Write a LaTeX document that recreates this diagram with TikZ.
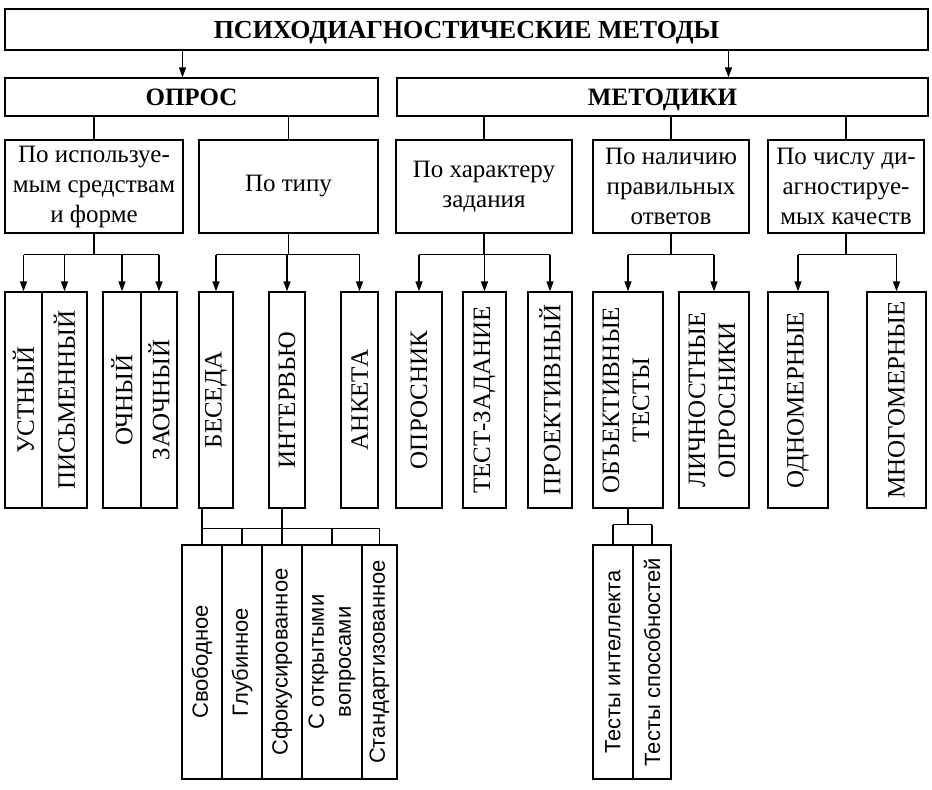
\documentclass[tikz,border=0pt]{standalone}
\usepackage{fontspec}
\setmainfont{Liberation Serif}
\setsansfont{Liberation Sans}
\usetikzlibrary{arrows.meta}
\tikzset{
  box/.style={draw, line width=1.3pt, inner sep=0pt, align=center},
  link/.style={line width=1.3pt},
  arr/.style={line width=1.3pt, -{Triangle[length=10pt,width=7pt]}},
  head/.style={box, text height=17pt, text depth=0pt, font=\fontsize{25}{30}\selectfont\bfseries},
  mid/.style={box, minimum height=93, font=\fontsize{25}{30}\selectfont},
  leaf/.style={box, minimum height=216, font=\fontsize{25}{30}\selectfont},
  sub/.style={box, minimum height=234, font=\sffamily\fontsize{22}{27}\selectfont},
}
\begin{document}
\begin{tikzpicture}[x=1pt,y=1pt,yscale=-1]
  \useasboundingbox (0,0) rectangle (932,790);
  % upper levels
  \node[head, minimum width=923, minimum height=41, font=\fontsize{26}{30}\selectfont\bfseries] (title) at (466.5,29.5) {ПСИХОДИАГНОСТИЧЕСКИЕ МЕТОДЫ};
  \node[head, minimum width=373, minimum height=38] (opros) at (191.5,97) {ОПРОС};
  \node[head, minimum width=531, minimum height=38] (metod) at (662.5,97) {МЕТОДИКИ};
  % criteria
  \node[mid, minimum width=178] (form) at (94,186.5) {По используе-\\мым средствам\\и форме};
  \node[mid, minimum width=179] (type) at (288.5,186.5) {По типу};
  \node[mid, minimum width=176] (task) at (484,186.5) {По характеру\\задания};
  \node[mid, minimum width=156] (answ) at (671,186.5) {По наличию\\правильных\\ответов};
  \node[mid, minimum width=156] (qual) at (846,186.5) {По числу ди-\\агностируе-\\мых качеств};
  % kinds
  \node[leaf, minimum width=37] (ustn) at (23.5,400) {\rotatebox{90}{УСТНЫЙ}};
  \node[leaf, minimum width=45] (pism) at (64.5,400) {\rotatebox{90}{ПИСЬМЕННЫЙ}};
  \node[leaf, minimum width=38] (ochn) at (122,400) {\rotatebox{90}{ОЧНЫЙ}};
  \node[leaf, minimum width=36] (zaoch) at (159,400) {\rotatebox{90}{ЗАОЧНЫЙ}};
  \node[leaf, minimum width=34] (beseda) at (216,400) {\rotatebox{90}{БЕСЕДА}};
  \node[leaf, minimum width=36] (interv) at (287,400) {\rotatebox{90}{ИНТЕРВЬЮ}};
  \node[leaf, minimum width=37] (anketa) at (359.5,400) {\rotatebox{90}{АНКЕТА}};
  \node[leaf, minimum width=46] (oprosnik) at (419,400) {\rotatebox{90}{ОПРОСНИК}};
  \node[leaf, minimum width=43] (testzad) at (484.5,400) {\rotatebox{90}{ТЕСТ-ЗАДАНИЕ}};
  \node[leaf, minimum width=44] (proekt) at (550,400) {\rotatebox{90}{ПРОЕКТИВНЫЙ}};
  \node[leaf, minimum width=70] (objekt) at (628,400) {\rotatebox{90}{\begin{tabular}{@{}c@{}}ОБЪЕКТИВНЫЕ\\ТЕСТЫ\end{tabular}}};
  \node[leaf, minimum width=70] (lichn) at (714,400) {\rotatebox{90}{\begin{tabular}{@{}c@{}}ЛИЧНОСТНЫЕ\\ОПРОСНИКИ\end{tabular}}};
  \node[leaf, minimum width=60] (odnom) at (798,400) {\rotatebox{90}{ОДНОМЕРНЫЕ}};
  \node[leaf, minimum width=59] (mnogom) at (896.5,400) {\rotatebox{90}{МНОГОМЕРНЫЕ}};
  % interview kinds and tests
  \node[sub, minimum width=40] (svob) at (202,662) {\rotatebox{90}{Свободное}};
  \node[sub, minimum width=40] (glub) at (242,662) {\rotatebox{90}{Глубинное}};
  \node[sub, minimum width=40] (sfok) at (282,662) {\rotatebox{90}{Сфокусированное}};
  \node[sub, minimum width=60] (sotkr) at (332,662) {\rotatebox{90}{\begin{tabular}{@{}c@{}}С открытыми\\вопросами\end{tabular}}};
  \node[sub, minimum width=35] (stand) at (379.5,662) {\rotatebox{90}{Стандартизованное}};
  \node[sub, minimum width=40] (tint) at (613,662) {\rotatebox{90}{Тесты интеллекта}};
  \node[sub, minimum width=38] (tspos) at (652,662) {\rotatebox{90}{Тесты способностей}};

  % connectors
  \draw[arr] ([xshift=-9pt]opros.north |- title.south) -- ([xshift=-9pt]opros.north);
  \draw[arr] ([xshift=66pt]metod.north |- title.south) -- ([xshift=66pt]metod.north);
  \draw[link] (opros.south -| form.north) -- (form.north);
  \draw[link] (opros.south -| type.north) -- (type.north);
  \draw[link] (metod.south -| task.north) -- (task.north);
  \draw[link] (metod.south -| answ.north) -- (answ.north);
  \draw[link] (metod.south -| qual.north) -- (qual.north);

  \draw[link] (form.south) -- ++(0,21) coordinate (fh);
  \draw[link] (fh -| ustn.north) -- (fh -| zaoch.north);
  \draw[arr] (fh -| ustn.north) -- (ustn.north);
  \draw[arr] (fh -| pism.north) -- (pism.north);
  \draw[arr] (fh -| ochn.north) -- (ochn.north);
  \draw[arr] (fh -| zaoch.north) -- (zaoch.north);

  \draw[link] (type.south) -- ++(0,21) coordinate (th);
  \draw[link] (th -| beseda.north) -- (th -| anketa.north);
  \draw[arr] (th -| beseda.north) -- (beseda.north);
  \draw[arr] (th -| interv.north) -- (interv.north);
  \draw[arr] (th -| anketa.north) -- (anketa.north);

  \draw[link] (task.south) -- ++(0,21) coordinate (kh);
  \draw[link] (kh -| oprosnik.north) -- (kh -| proekt.north);
  \draw[arr] (kh -| oprosnik.north) -- (oprosnik.north);
  \draw[arr] (kh -| testzad.north) -- (testzad.north);
  \draw[arr] (kh -| proekt.north) -- (proekt.north);

  \draw[link] (answ.south) -- ++(0,21) coordinate (ah);
  \draw[link] (ah -| objekt.north) -- (ah -| lichn.north);
  \draw[arr] (ah -| objekt.north) -- (objekt.north);
  \draw[arr] (ah -| lichn.north) -- (lichn.north);

  \draw[link] (qual.south) -- ++(0,21) coordinate (qh);
  \draw[link] (qh -| odnom.north) -- (qh -| mnogom.north);
  \draw[arr] (qh -| odnom.north) -- (odnom.north);
  \draw[arr] (qh -| mnogom.north) -- (mnogom.north);

  % lower branches
  \draw[link] (beseda.south -| svob.north) -- ++(0,20) coordinate (bh);
  \draw[link] (interv.south -| sfok.north) -- (bh -| sfok.north);
  \draw[link] (bh) -- (bh -| stand.north);
  \draw[link] (bh -| svob.north) -- (svob.north);
  \draw[link] (bh -| glub.north) -- (glub.north);
  \draw[link] (bh -| sfok.north) -- (sfok.north);
  \draw[link] (bh -| sotkr.north) -- (sotkr.north);
  \draw[link] (bh -| stand.north) -- (stand.north);

  \draw[link] (objekt.south) -- ++(0,16) coordinate (oh);
  \draw[link] (oh -| tint.north) -- (oh -| tspos.north);
  \draw[link] (oh -| tint.north) -- (tint.north);
  \draw[link] (oh -| tspos.north) -- (tspos.north);
\end{tikzpicture}
\end{document}
